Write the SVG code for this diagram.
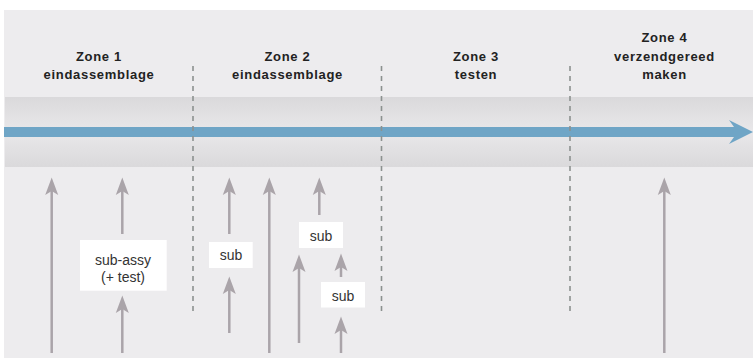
<svg xmlns="http://www.w3.org/2000/svg" width="753" height="360" viewBox="0 0 753 360">
  <defs>
    <linearGradient id="bandFill" x1="0" y1="0" x2="0" y2="1">
      <stop offset="0" stop-color="#dad9db"/>
      <stop offset="0.5" stop-color="#e9e8ea"/>
      <stop offset="1" stop-color="#dad9db"/>
    </linearGradient>
    <marker id="head" markerUnits="userSpaceOnUse" markerWidth="18" markerHeight="14" refX="4" refY="7" orient="auto">
      <path d="M0,0.5 L17.5,7 L0,13.5 L4,7 Z" fill="#aaa4a9"/>
    </marker>
  </defs>
  <style>
    .zone { font-family: "Liberation Sans", Arial, sans-serif; font-weight: bold; font-size: 13px; letter-spacing: 0.7px; fill: #222222; text-anchor: middle; }
    .lbl { font-family: "Liberation Sans", Arial, sans-serif; font-size: 14px; fill: #333333; text-anchor: middle; }
    .box { fill: #ffffff; }
    .feed { stroke: #aaa4a9; stroke-width: 2.5; fill: none; marker-end: url(#head); }
    .divider { stroke: #8c918f; stroke-width: 1.6; stroke-dasharray: 5 5; }
  </style>

  <!-- backdrop and main flow band -->
  <rect x="4" y="10" width="749" height="348" fill="#edecee"/>
  <rect x="5" y="97" width="748" height="70" fill="url(#bandFill)"/>
  <g id="mainflow">
    <rect x="4" y="127" width="731" height="10" fill="#6fa5c6"/>
    <polygon points="729,120 753,132 729,144 734,137 734,127" fill="#6fa5c6"/>
  </g>

  <!-- zone separators -->
  <g id="dividers">
    <line class="divider" x1="193" y1="66" x2="193" y2="314"/>
    <line class="divider" x1="381.5" y1="66" x2="381.5" y2="314"/>
    <line class="divider" x1="570" y1="66" x2="570" y2="314"/>
  </g>

  <!-- zone headings -->
  <g id="zone1"><text class="zone" x="99" y="60.5">Zone 1</text><text class="zone" x="99" y="78.5">eindassemblage</text></g>
  <g id="zone2"><text class="zone" x="287.5" y="60.5">Zone 2</text><text class="zone" x="287.5" y="78.5">eindassemblage</text></g>
  <g id="zone3"><text class="zone" x="476" y="60.5">Zone 3</text><text class="zone" x="476" y="78.5">testen</text></g>
  <g id="zone4"><text class="zone" x="664.5" y="42">Zone 4</text><text class="zone" x="664.5" y="60.5">verzendgereed</text><text class="zone" x="664.5" y="78.5">maken</text></g>

  <!-- feeding arrows -->
  <g id="connectors">
    <line class="feed" x1="51.7" y1="353" x2="51.7" y2="191"/>
    <line class="feed" x1="122.3" y1="234" x2="122.3" y2="191"/>
    <line class="feed" x1="122.3" y1="353" x2="122.3" y2="309"/>
    <line class="feed" x1="229.3" y1="234" x2="229.3" y2="191"/>
    <line class="feed" x1="229.3" y1="333" x2="229.3" y2="290"/>
    <line class="feed" x1="269.3" y1="353" x2="269.3" y2="191"/>
    <line class="feed" x1="319.3" y1="215" x2="319.3" y2="191"/>
    <line class="feed" x1="299" y1="343" x2="299" y2="268"/>
    <line class="feed" x1="341" y1="277" x2="341" y2="267"/>
    <line class="feed" x1="341" y1="353" x2="341" y2="330"/>
    <line class="feed" x1="664.3" y1="353" x2="664.3" y2="191"/>
  </g>

  <!-- sub-assembly nodes -->
  <g id="subassy">
    <rect class="box" x="80" y="240" width="86.7" height="50.7"/>
    <text class="lbl" x="123" y="264.5">sub-assy</text>
    <text class="lbl" x="123" y="281.5">(+ test)</text>
  </g>
  <g id="sub1">
    <rect class="box" x="209" y="242" width="43.7" height="26"/>
    <text class="lbl" x="231" y="260">sub</text>
  </g>
  <g id="sub2">
    <rect class="box" x="299" y="222" width="44" height="26"/>
    <text class="lbl" x="321" y="241">sub</text>
  </g>
  <g id="sub3">
    <rect class="box" x="321" y="282" width="44" height="25.5"/>
    <text class="lbl" x="343" y="300.5">sub</text>
  </g>
</svg>
